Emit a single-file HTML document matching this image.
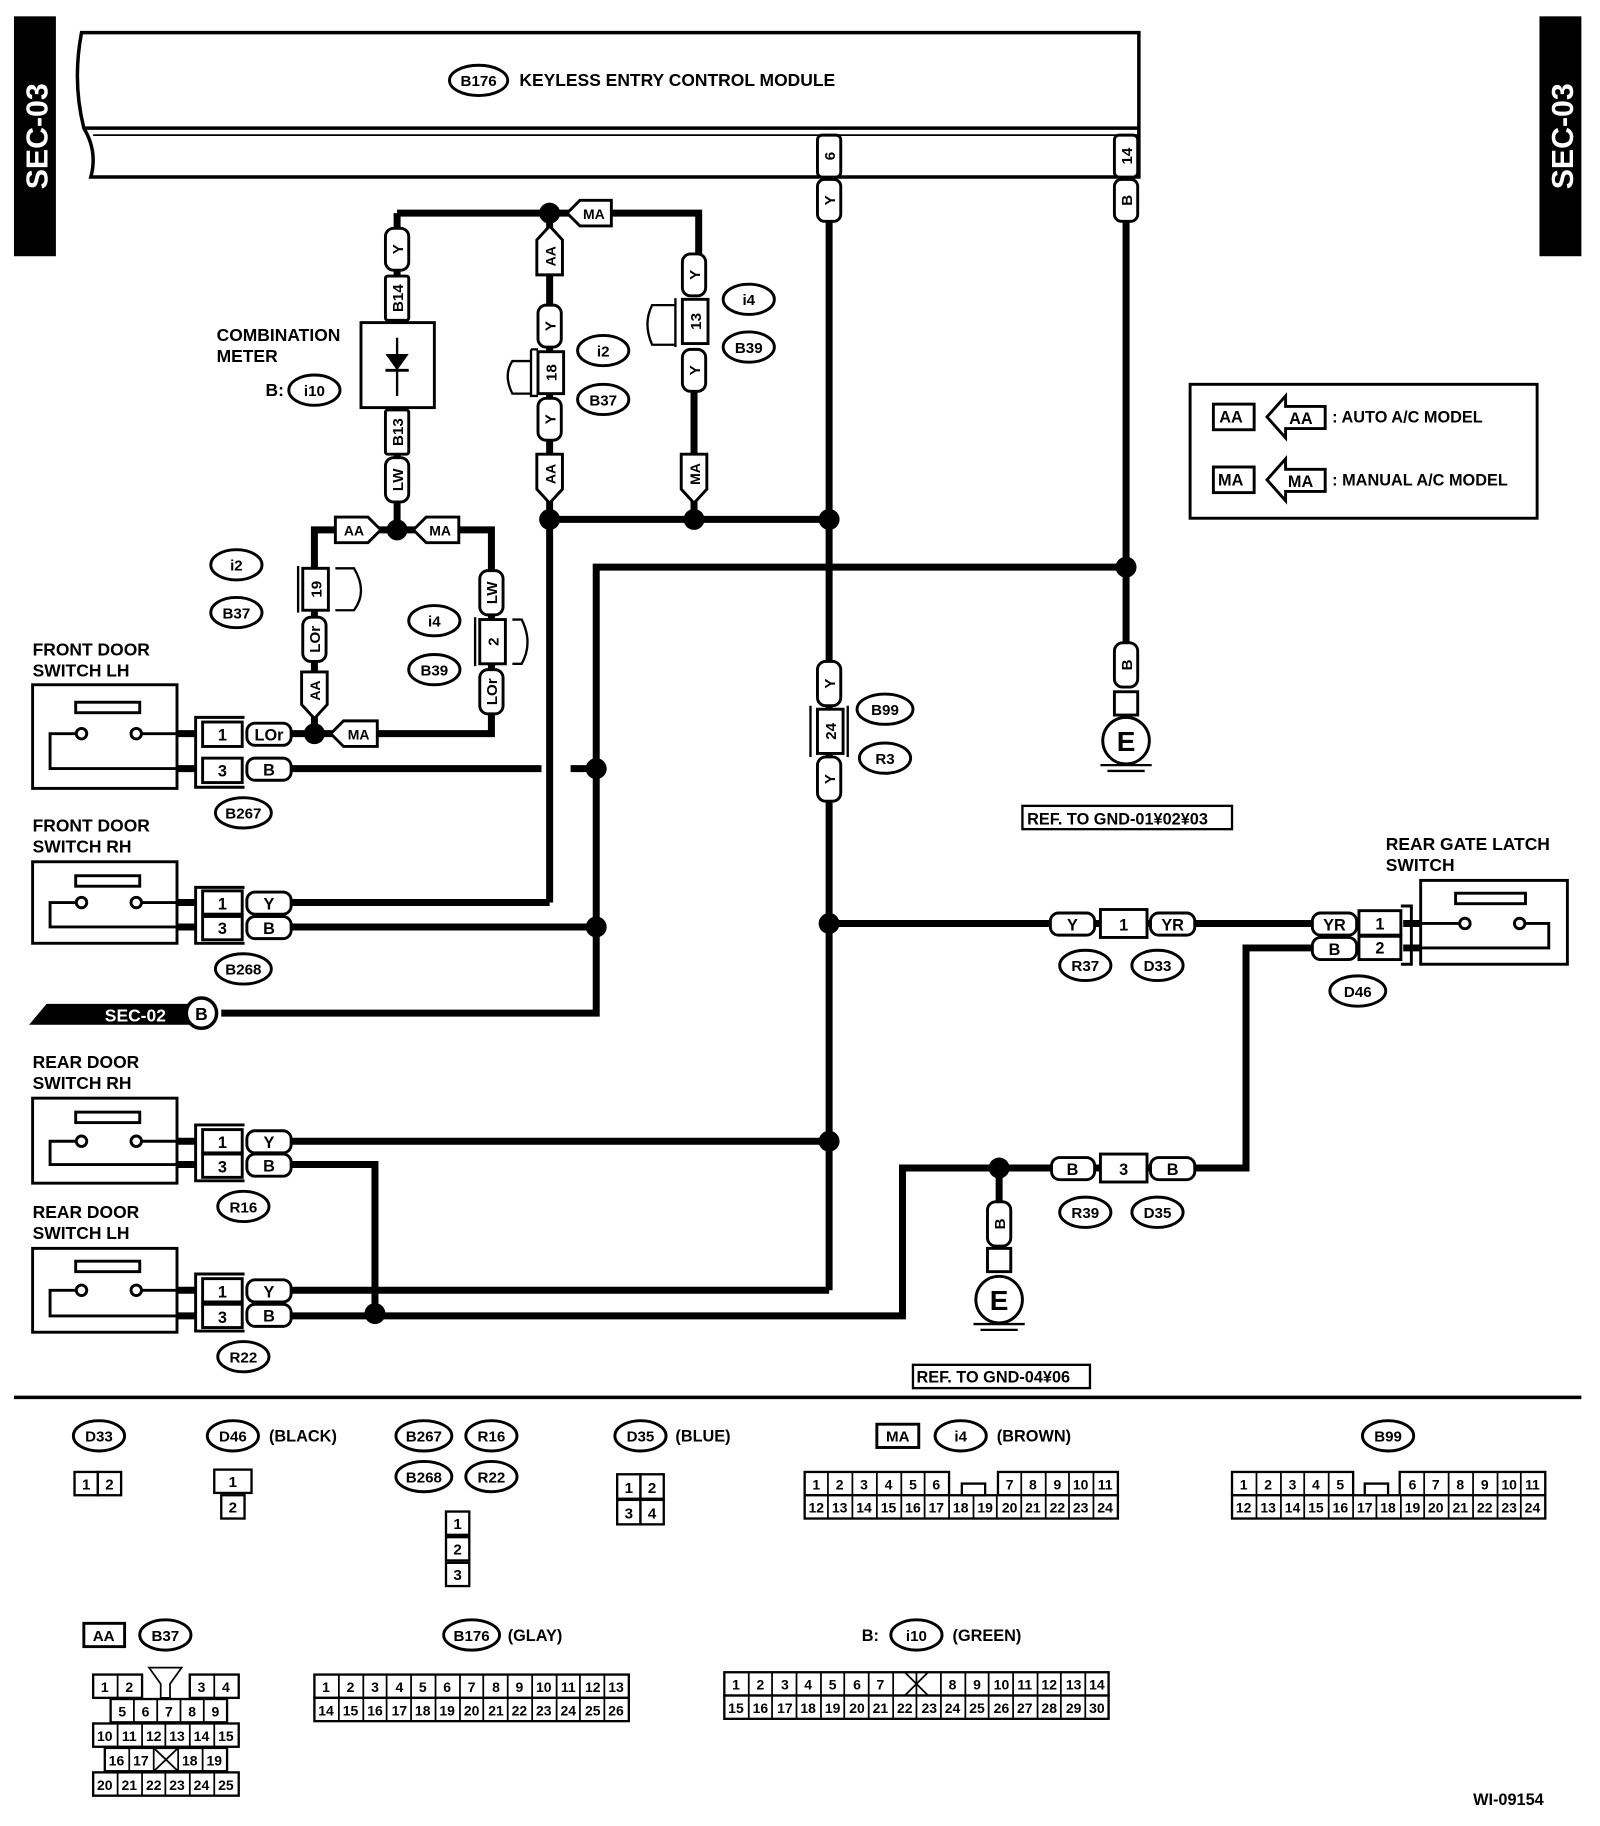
<!DOCTYPE html>
<html><head><meta charset="utf-8"><style>
html,body{margin:0;padding:0;background:#fff}
svg{display:block}
text{font-family:"Liberation Sans",Arial,sans-serif;font-weight:bold;fill:#000}
</style></head><body>
<svg width="1600" height="1826" viewBox="0 0 1374 1568" xmlns="http://www.w3.org/2000/svg">
<rect width="1374" height="1568" fill="#fff"/>
<!-- SEC-03 bars -->
<rect x="12" y="14" width="36" height="206" fill="#000"/>
<text transform="translate(41,117) rotate(-90)" text-anchor="middle" font-size="26" style="fill:#fff">SEC-03</text>
<rect x="1322" y="14" width="36" height="206" fill="#000"/>
<text transform="translate(1351,117) rotate(-90)" text-anchor="middle" font-size="26" style="fill:#fff">SEC-03</text>
<!-- module -->
<path d="M70,28 L978,28 L978,152 L78,152 Q84,130 72,110 Q62,70 70,28Z" fill="#fff" stroke="#000" stroke-width="3"/>
<line x1="72" y1="110" x2="978" y2="110" stroke="#000" stroke-width="3"/>
<line x1="80" y1="116" x2="978" y2="116" stroke="#000" stroke-width="1.5"/>
<ellipse cx="411" cy="69" rx="25" ry="13" fill="#fff" stroke="#000" stroke-width="2.5"/>
<text x="411" y="74" text-anchor="middle" font-size="13">B176</text>
<text x="446" y="74" font-size="15">KEYLESS ENTRY CONTROL MODULE</text>

<g stroke="#000" stroke-width="6" fill="none" stroke-linejoin="miter">
<!-- main wires -->
<line x1="712" y1="188" x2="712" y2="1108"/>
<line x1="967" y1="188" x2="967" y2="555"/>
<line x1="472" y1="446" x2="712" y2="446"/>
<path d="M967,487 L512,487 L512,870 L190,870"/>
<path d="M341,183 L600,183 L600,218"/>
<line x1="341" y1="183" x2="341" y2="455"/>
<line x1="472" y1="183" x2="472" y2="775"/>
<line x1="596" y1="330" x2="596" y2="446"/>
<path d="M270,630 L270,455 L422,455 L422,630 L250,630"/>
<line x1="250" y1="660" x2="465" y2="660"/>
<line x1="490" y1="660" x2="512" y2="660"/>
<line x1="250" y1="775" x2="472" y2="775"/>
<line x1="250" y1="796" x2="512" y2="796"/>
<line x1="712" y1="793" x2="1130" y2="793"/>
<path d="M1130,814 L1070,814 L1070,1003 L775,1003 L775,1130 L250,1130"/>
<line x1="858" y1="1003" x2="858" y2="1090"/>
<line x1="250" y1="980" x2="712" y2="980"/>
<path d="M250,1000 L322,1000 L322,1130"/>
<line x1="250" y1="1108" x2="712" y2="1108"/>
</g>
<!-- dots -->
<g fill="#000">
<circle cx="472" cy="183" r="9"/><circle cx="472" cy="446" r="9"/><circle cx="596" cy="446" r="9"/><circle cx="712" cy="446" r="9"/>
<circle cx="967" cy="487" r="9"/><circle cx="341" cy="455" r="9"/><circle cx="270" cy="630" r="9"/>
<circle cx="512" cy="660" r="9"/><circle cx="512" cy="796" r="9"/><circle cx="712" cy="793" r="9"/>
<circle cx="712" cy="980" r="9"/><circle cx="858" cy="1003" r="9"/><circle cx="322" cy="1128" r="9"/>
</g>

<!-- vertical tabs -->
<g stroke="#000" stroke-width="2.5" fill="#fff">
<rect x="702" y="116" width="20" height="36" rx="4"/><rect x="702" y="154" width="20" height="36" rx="6"/>
<rect x="957" y="116" width="20" height="36" rx="4"/><rect x="957" y="154" width="20" height="36" rx="6"/>
<rect x="331" y="196" width="20" height="36" rx="7"/><rect x="331" y="237" width="20" height="38" rx="2"/>
<rect x="310" y="277" width="63" height="73"/>
<rect x="331" y="352" width="20" height="38" rx="2"/><rect x="331" y="393" width="20" height="38" rx="7"/>
<rect x="462" y="262" width="20" height="36" rx="7"/><rect x="462" y="302" width="22" height="36"/><rect x="462" y="342" width="20" height="36" rx="7"/>
<rect x="586" y="218" width="20" height="36" rx="7"/><rect x="586" y="257" width="22" height="38"/><rect x="586" y="300" width="20" height="36" rx="7"/>
<rect x="260" y="488" width="22" height="36"/><rect x="260" y="530" width="20" height="38" rx="7"/>
<rect x="412" y="490" width="20" height="38" rx="7"/><rect x="412" y="532" width="22" height="38"/><rect x="412" y="575" width="20" height="38" rx="7"/>
<rect x="702" y="568" width="20" height="38" rx="7"/><rect x="702" y="609" width="22" height="38"/><rect x="702" y="650" width="20" height="38" rx="7"/>
<rect x="957" y="552" width="20" height="38" rx="7"/><rect x="957" y="594" width="20" height="20"/>
<rect x="848" y="1032" width="20" height="38" rx="7"/><rect x="848" y="1072" width="20" height="20"/>
</g>
<!-- connector brackets -->
<g stroke="#000" stroke-width="2" fill="none">
<path d="M456,310 L440,310 Q432,322 440,338 L456,338"/><path d="M456,300 L462,300 M456,300 L456,340 L462,340"/>
<path d="M580,262 L560,262 Q552,278 560,296 L580,296"/><path d="M580,256 L580,298"/>
<path d="M288,488 L304,488 Q316,508 304,524 L288,524"/><path d="M256,486 L256,526"/>
<path d="M440,532 L448,532 Q458,552 448,570 L440,570"/><path d="M408,530 L408,572"/>
<path d="M696,606 L696,650 M728,606 L728,650"/>
</g>
<!-- diode -->
<line x1="341" y1="290" x2="341" y2="340" stroke="#000" stroke-width="2"/>
<polygon points="331,304 351,304 341,318" fill="#000"/><line x1="331" y1="318" x2="351" y2="318" stroke="#000" stroke-width="2.5"/>
<!-- vertical tab text -->
<g font-size="13" text-anchor="middle">
<text transform="translate(717,134) rotate(-90)">6</text><text transform="translate(717,172) rotate(-90)">Y</text>
<text transform="translate(972,134) rotate(-90)">14</text><text transform="translate(972,172) rotate(-90)">B</text>
<text transform="translate(346,214) rotate(-90)">Y</text><text transform="translate(346,256) rotate(-90)">B14</text>
<text transform="translate(346,371) rotate(-90)">B13</text><text transform="translate(346,412) rotate(-90)">LW</text>
<text transform="translate(477,280) rotate(-90)">Y</text><text transform="translate(478,320) rotate(-90)">18</text><text transform="translate(477,360) rotate(-90)">Y</text>
<text transform="translate(601,236) rotate(-90)">Y</text><text transform="translate(602,276) rotate(-90)">13</text><text transform="translate(601,318) rotate(-90)">Y</text>
<text transform="translate(276,506) rotate(-90)">19</text><text transform="translate(275,549) rotate(-90)">LOr</text>
<text transform="translate(427,509) rotate(-90)">LW</text><text transform="translate(428,551) rotate(-90)">2</text><text transform="translate(427,594) rotate(-90)">LOr</text>
<text transform="translate(717,587) rotate(-90)">Y</text><text transform="translate(718,628) rotate(-90)">24</text><text transform="translate(717,669) rotate(-90)">Y</text>
<text transform="translate(972,571) rotate(-90)">B</text>
<text transform="translate(863,1051) rotate(-90)">B</text>
</g>
<!-- AA/MA arrows -->
<g stroke="#000" stroke-width="2.5" fill="#fff">
<polygon points="487,183 498,172 525,172 525,194 498,194"/>
<polygon points="472,194 461,206 461,236 483,236 483,206"/>
<polygon points="472,432 461,420 461,390 483,390 483,420"/>
<polygon points="596,432 585,420 585,390 607,390 607,420"/>
<polygon points="327,455 316,444 288,444 288,466 316,466"/>
<polygon points="355,455 366,444 394,444 394,466 366,466"/>
<polygon points="270,617 259,605 259,577 281,577 281,605"/>
<polygon points="284,630 295,619 324,619 324,641 295,641"/>
</g>
<g font-size="12" text-anchor="middle">
<text x="510" y="188">MA</text>
<text transform="translate(477,220) rotate(-90)">AA</text>
<text transform="translate(477,407) rotate(-90)">AA</text>
<text transform="translate(601,407) rotate(-90)">MA</text>
<text x="304" y="460">AA</text><text x="378" y="460">MA</text>
<text transform="translate(275,593) rotate(-90)">AA</text>
<text x="308" y="635">MA</text>
</g>
<!-- combination meter label -->
<text x="186" y="293" font-size="15">COMBINATION</text>
<text x="186" y="311" font-size="15">METER</text>
<text x="228" y="340" font-size="15">B:</text>

<!-- ovals -->
<g stroke="#000" stroke-width="2.5" fill="#fff">
<ellipse cx="270" cy="335" rx="22" ry="13"/>
<ellipse cx="518" cy="301" rx="22" ry="13"/><ellipse cx="518" cy="343" rx="22" ry="13"/>
<ellipse cx="643" cy="257" rx="22" ry="13"/><ellipse cx="643" cy="298" rx="22" ry="13"/>
<ellipse cx="203" cy="485" rx="22" ry="13"/><ellipse cx="203" cy="526" rx="22" ry="13"/>
<ellipse cx="373" cy="533" rx="22" ry="13"/><ellipse cx="373" cy="575" rx="22" ry="13"/>
<ellipse cx="760" cy="609" rx="24" ry="13"/><ellipse cx="760" cy="651" rx="22" ry="13"/>
<ellipse cx="209" cy="698" rx="24" ry="13"/><ellipse cx="209" cy="832" rx="24" ry="13"/>
<ellipse cx="209" cy="1036" rx="22" ry="13"/><ellipse cx="209" cy="1165" rx="22" ry="13"/>
<ellipse cx="932" cy="829" rx="22" ry="13"/><ellipse cx="994" cy="829" rx="22" ry="13"/>
<ellipse cx="1166" cy="851" rx="24" ry="13"/>
<ellipse cx="932" cy="1041" rx="22" ry="13"/><ellipse cx="994" cy="1041" rx="22" ry="13"/>
</g>
<g font-size="13" text-anchor="middle">
<text x="270" y="340">i10</text>
<text x="518" y="306">i2</text><text x="518" y="348">B37</text>
<text x="643" y="262">i4</text><text x="643" y="303">B39</text>
<text x="203" y="490">i2</text><text x="203" y="531">B37</text>
<text x="373" y="538">i4</text><text x="373" y="580">B39</text>
<text x="760" y="614">B99</text><text x="760" y="656">R3</text>
<text x="209" y="703">B267</text><text x="209" y="837">B268</text>
<text x="209" y="1041">R16</text><text x="209" y="1170">R22</text>
<text x="932" y="834">R37</text><text x="994" y="834">D33</text>
<text x="1166" y="856">D46</text>
<text x="932" y="1046">R39</text><text x="994" y="1046">D35</text>
</g>

<!-- switches -->
<g font-size="15">
<text x="28" y="563">FRONT DOOR</text><text x="28" y="581">SWITCH LH</text>
<text x="28" y="714">FRONT DOOR</text><text x="28" y="732">SWITCH RH</text>
<text x="28" y="917">REAR DOOR</text><text x="28" y="935">SWITCH RH</text>
<text x="28" y="1046">REAR DOOR</text><text x="28" y="1064">SWITCH LH</text>
<text x="1190" y="730">REAR GATE LATCH</text><text x="1190" y="748">SWITCH</text>
</g>
<g stroke="#000" stroke-width="2.5" fill="none">
<!-- FL -->
<rect x="28" y="588" width="124" height="89" fill="#fff"/><rect x="65" y="603" width="55" height="9"/>
<circle cx="70" cy="630" r="4.5" fill="#fff"/><circle cx="117" cy="630" r="4.5" fill="#fff"/>
<path d="M65,630 L43,630 L43,660 L152,660 M122,630 L152,630"/>
<!-- FR -->
<rect x="28" y="740" width="124" height="70" fill="#fff"/><rect x="65" y="752" width="55" height="9"/>
<circle cx="70" cy="775" r="4.5" fill="#fff"/><circle cx="117" cy="775" r="4.5" fill="#fff"/>
<path d="M65,775 L43,775 L43,796 L152,796 M122,775 L152,775"/>
<!-- RR -->
<rect x="28" y="943" width="124" height="73" fill="#fff"/><rect x="65" y="955" width="55" height="9"/>
<circle cx="70" cy="980" r="4.5" fill="#fff"/><circle cx="117" cy="980" r="4.5" fill="#fff"/>
<path d="M65,980 L43,980 L43,1000 L152,1000 M122,980 L152,980"/>
<!-- RL -->
<rect x="28" y="1072" width="124" height="72" fill="#fff"/><rect x="65" y="1083" width="55" height="9"/>
<circle cx="70" cy="1108" r="4.5" fill="#fff"/><circle cx="117" cy="1108" r="4.5" fill="#fff"/>
<path d="M65,1108 L43,1108 L43,1130 L152,1130 M122,1108 L152,1108"/>
<!-- rear gate -->
<rect x="1220" y="756" width="126" height="72" fill="#fff"/><rect x="1250" y="767" width="60" height="9"/>
<circle cx="1258" cy="793" r="4.5" fill="#fff"/><circle cx="1305" cy="793" r="4.5" fill="#fff"/>
<path d="M1220,793 L1253,793 M1310,793 L1330,793 L1330,814 L1220,814"/>
</g>
<g stroke="#000" stroke-width="6">
<line x1="152" y1="630" x2="168" y2="630"/><line x1="152" y1="660" x2="168" y2="660"/>
<line x1="152" y1="775" x2="168" y2="775"/><line x1="152" y1="796" x2="168" y2="796"/>
<line x1="152" y1="980" x2="168" y2="980"/><line x1="152" y1="1000" x2="168" y2="1000"/>
<line x1="152" y1="1108" x2="168" y2="1108"/><line x1="152" y1="1130" x2="168" y2="1130"/>
<line x1="1205" y1="793" x2="1220" y2="793"/><line x1="1205" y1="814" x2="1220" y2="814"/>
</g>
<!-- horizontal connectors -->
<g stroke="#000" stroke-width="2.5" fill="#fff">
<path d="M210,616 L168,616 L168,676 L210,676" fill="none"/><rect x="174" y="620" width="34" height="21"/><rect x="174" y="651" width="34" height="21"/>
<rect x="212" y="621" width="38" height="19" rx="7"/><rect x="212" y="651" width="38" height="19" rx="7"/>
<path d="M210,762 L168,762 L168,810 L210,810" fill="none"/><rect x="174" y="765" width="34" height="20"/><rect x="174" y="787" width="34" height="20"/>
<rect x="212" y="766" width="38" height="19" rx="7"/><rect x="212" y="787" width="38" height="19" rx="7"/>
<path d="M210,966 L168,966 L168,1014 L210,1014" fill="none"/><rect x="174" y="970" width="34" height="20"/><rect x="174" y="991" width="34" height="20"/>
<rect x="212" y="971" width="38" height="19" rx="7"/><rect x="212" y="991" width="38" height="19" rx="7"/>
<path d="M210,1094 L168,1094 L168,1143 L210,1143" fill="none"/><rect x="174" y="1098" width="34" height="20"/><rect x="174" y="1120" width="34" height="20"/>
<rect x="212" y="1099" width="38" height="19" rx="7"/><rect x="212" y="1120" width="38" height="19" rx="7"/>
<rect x="902" y="784" width="38" height="19" rx="7"/><rect x="945" y="781" width="40" height="24"/><rect x="988" y="784" width="38" height="19" rx="7"/>
<rect x="1127" y="784" width="38" height="19" rx="7"/><rect x="1127" y="805" width="38" height="19" rx="7"/>
<rect x="1167" y="782" width="36" height="21"/><rect x="1167" y="804" width="36" height="20"/>
<path d="M1203,778 L1212,778 L1212,828 L1203,828" fill="none"/>
<rect x="903" y="994" width="37" height="19" rx="7"/><rect x="945" y="991" width="40" height="24"/><rect x="988" y="994" width="38" height="19" rx="7"/>
</g>
<g font-size="14" text-anchor="middle">
<text x="191" y="636">1</text><text x="231" y="636">LOr</text><text x="191" y="667">3</text><text x="231" y="666">B</text>
<text x="191" y="781">1</text><text x="231" y="781">Y</text><text x="191" y="802">3</text><text x="231" y="802">B</text>
<text x="191" y="986">1</text><text x="231" y="986">Y</text><text x="191" y="1007">3</text><text x="231" y="1006">B</text>
<text x="191" y="1114">1</text><text x="231" y="1114">Y</text><text x="191" y="1136">3</text><text x="231" y="1135">B</text>
<text x="921" y="799">Y</text><text x="965" y="799">1</text><text x="1007" y="799">YR</text>
<text x="1146" y="799">YR</text><text x="1146" y="820">B</text><text x="1185" y="798">1</text><text x="1185" y="819">2</text>
<text x="921" y="1009">B</text><text x="965" y="1009">3</text><text x="1007" y="1009">B</text>
</g>

<!-- grounds -->
<g stroke="#000" stroke-width="2.5" fill="#fff">
<circle cx="967" cy="636" r="20"/><circle cx="858" cy="1116" r="20"/>
</g>
<g stroke="#000" stroke-width="2">
<line x1="945" y1="657" x2="989" y2="657"/><line x1="951" y1="662" x2="983" y2="662"/>
<line x1="836" y1="1137" x2="880" y2="1137"/><line x1="842" y1="1142" x2="874" y2="1142"/>
</g>
<text x="967" y="645" text-anchor="middle" font-size="24">E</text>
<text x="858" y="1125" text-anchor="middle" font-size="24">E</text>
<rect x="878" y="692" width="180" height="20" fill="#fff" stroke="#000" stroke-width="2"/>
<text x="882" y="708" font-size="14">REF. TO GND-01¥02¥03</text>
<rect x="784" y="1172" width="152" height="20" fill="#fff" stroke="#000" stroke-width="2"/>
<text x="787" y="1187" font-size="14">REF. TO GND-04¥06</text>

<!-- SEC-02 -->
<polygon points="25,880 40,862 165,862 165,880" fill="#000"/>
<text x="90" y="877" font-size="15" style="fill:#fff">SEC-02</text>
<circle cx="173" cy="870" r="13" fill="#fff" stroke="#000" stroke-width="3"/>
<text x="173" y="876" text-anchor="middle" font-size="15">B</text>

<!-- legend -->
<rect x="1022" y="330" width="298" height="115" fill="#fff" stroke="#000" stroke-width="2.5"/>
<g stroke="#000" stroke-width="2.5" fill="#fff">
<rect x="1042" y="347" width="35" height="22"/><polygon points="1088,358 1104,340 1104,349 1138,349 1138,368 1104,368 1104,376"/>
<rect x="1042" y="401" width="35" height="22"/><polygon points="1088,412 1104,394 1104,403 1138,403 1138,422 1104,422 1104,430"/>
</g>
<g font-size="14">
<text x="1047" y="363">AA</text><text x="1107" y="364">AA</text><text x="1144" y="363">: AUTO A/C MODEL</text>
<text x="1046" y="417">MA</text><text x="1106" y="418">MA</text><text x="1144" y="417">: MANUAL A/C MODEL</text>
</g>

<!-- separator -->
<line x1="12" y1="1200" x2="1358" y2="1200" stroke="#000" stroke-width="3"/>

<!-- bottom labels -->
<g stroke="#000" stroke-width="2.5" fill="#fff">
<ellipse cx="85" cy="1233" rx="22" ry="13"/><ellipse cx="200" cy="1233" rx="22" ry="13"/>
<ellipse cx="364" cy="1233" rx="24" ry="13"/><ellipse cx="422" cy="1233" rx="22" ry="13"/>
<ellipse cx="364" cy="1268" rx="24" ry="13"/><ellipse cx="422" cy="1268" rx="22" ry="13"/>
<ellipse cx="550" cy="1233" rx="22" ry="13"/><ellipse cx="825" cy="1233" rx="22" ry="13"/>
<ellipse cx="1192" cy="1233" rx="22" ry="13"/>
<ellipse cx="142" cy="1404" rx="22" ry="13"/><ellipse cx="405" cy="1404" rx="24" ry="13"/><ellipse cx="787" cy="1404" rx="22" ry="13"/>
<rect x="753" y="1223" width="36" height="20"/><rect x="72" y="1394" width="35" height="20"/>
</g>
<g font-size="13" text-anchor="middle">
<text x="85" y="1238">D33</text><text x="200" y="1238">D46</text>
<text x="364" y="1238">B267</text><text x="422" y="1238">R16</text>
<text x="364" y="1273">B268</text><text x="422" y="1273">R22</text>
<text x="550" y="1238">D35</text><text x="825" y="1238">i4</text><text x="1192" y="1238">B99</text>
<text x="142" y="1409">B37</text><text x="405" y="1409">B176</text><text x="787" y="1409">i10</text>
<text x="771" y="1238">MA</text><text x="89" y="1409">AA</text>
</g>
<g font-size="14">
<text x="231" y="1238">(BLACK)</text><text x="580" y="1238">(BLUE)</text><text x="856" y="1238">(BROWN)</text>
<text x="436" y="1409">(GLAY)</text><text x="740" y="1409">B:</text><text x="818" y="1409">(GREEN)</text>
<text x="1265" y="1550">WI-09154</text>
</g>

<!-- connector grids -->
<g stroke="#000" stroke-width="2" fill="#fff">
<rect x="64" y="1264" width="20" height="20"/><rect x="84" y="1264" width="20" height="20"/>
<rect x="184" y="1262" width="32" height="20"/><rect x="190" y="1284" width="20" height="20"/>
<rect x="383" y="1298" width="20" height="20"/><rect x="383" y="1320" width="20" height="20"/><rect x="383" y="1342" width="20" height="20"/>
<rect x="530" y="1266" width="20" height="21"/><rect x="550" y="1266" width="20" height="21"/><rect x="530" y="1288" width="20" height="21"/><rect x="550" y="1288" width="20" height="21"/>
<!-- i4 -->
<rect x="691" y="1264" width="124" height="20"/><rect x="857" y="1264" width="103" height="20"/><rect x="691" y="1284" width="269" height="20"/>
<rect x="826" y="1274" width="20" height="10"/>
<!-- B99 -->
<rect x="1058" y="1264" width="104" height="20"/><rect x="1202" y="1264" width="125" height="20"/><rect x="1058" y="1284" width="269" height="20"/>
<rect x="1172" y="1274" width="20" height="10"/>
<!-- B176 -->
<rect x="270" y="1438" width="270" height="20"/><rect x="270" y="1458" width="270" height="20"/>
<!-- i10 -->
<rect x="622" y="1436" width="330" height="20"/><rect x="622" y="1456" width="330" height="20"/>
<!-- B37 -->
<rect x="80" y="1438" width="42" height="20"/><rect x="163" y="1438" width="42" height="20"/>
<rect x="95" y="1459" width="100" height="20"/><rect x="80" y="1480" width="125" height="20"/>
<rect x="90" y="1501" width="105" height="20"/><rect x="80" y="1522" width="125" height="20"/>
</g>
<g stroke="#000" stroke-width="1.5">
<line x1="84" y1="1264" x2="84" y2="1284"/>
<path d="M711,1264V1304M732,1264V1304M753,1264V1304M774,1264V1304M794,1264V1304M877,1264V1304M898,1264V1304M918,1264V1304M939,1264V1304M815,1284V1304M836,1284V1304M856,1284V1304"/>
<path d="M1079,1264V1304M1100,1264V1304M1120,1264V1304M1141,1264V1304M1162,1284V1304M1182,1284V1304M1223,1264V1304M1244,1264V1304M1265,1264V1304M1286,1264V1304M1306,1264V1304M1203,1284V1304"/>
<path d="M291,1438V1478M312,1438V1478M332,1438V1478M353,1438V1478M374,1438V1478M395,1438V1478M415,1438V1478M436,1438V1478M457,1438V1478M478,1438V1478M498,1438V1478M519,1438V1478"/>
<path d="M643,1436V1476M663,1436V1476M684,1436V1476M705,1436V1476M725,1436V1476M746,1436V1476M767,1436V1476M787,1436V1476M808,1436V1476M829,1436V1476M849,1436V1476M870,1436V1476M891,1436V1476M911,1436V1476M932,1436V1476"/>
<path d="M777,1436L797,1456M797,1436L777,1456"/>
<path d="M101,1438V1458M184,1438V1458M115,1459V1479M135,1459V1479M155,1459V1479M175,1459V1479M101,1480V1500M122,1480V1500M142,1480V1500M163,1480V1500M184,1480V1500M111,1501V1521M132,1501V1521M153,1501V1521M174,1501V1521M101,1522V1542M122,1522V1542M142,1522V1542M163,1522V1542M184,1522V1542"/>
<path d="M132,1501L153,1521M153,1501L132,1521"/>
<path d="M128,1432L156,1432L146,1446L146,1458L138,1458L138,1446Z" fill="#fff"/>
</g>
<g font-size="13" text-anchor="middle">
<text x="74" y="1279">1</text><text x="94" y="1279">2</text>
<text x="200" y="1277">1</text><text x="200" y="1299">2</text>
<text x="393" y="1313">1</text><text x="393" y="1335">2</text><text x="393" y="1357">3</text>
<text x="540" y="1282">1</text><text x="560" y="1282">2</text><text x="540" y="1304">3</text><text x="560" y="1304">4</text>
</g>
<g font-size="12" text-anchor="middle">
<text x="701" y="1279">1</text><text x="721" y="1279">2</text><text x="742" y="1279">3</text><text x="763" y="1279">4</text><text x="784" y="1279">5</text><text x="804" y="1279">6</text>
<text x="867" y="1279">7</text><text x="887" y="1279">8</text><text x="908" y="1279">9</text><text x="928" y="1279">10</text><text x="949" y="1279">11</text>
<text x="701" y="1299">12</text><text x="721" y="1299">13</text><text x="742" y="1299">14</text><text x="763" y="1299">15</text><text x="784" y="1299">16</text><text x="804" y="1299">17</text><text x="825" y="1299">18</text><text x="846" y="1299">19</text><text x="867" y="1299">20</text><text x="887" y="1299">21</text><text x="908" y="1299">22</text><text x="928" y="1299">23</text><text x="949" y="1299">24</text>
<text x="1068" y="1279">1</text><text x="1089" y="1279">2</text><text x="1110" y="1279">3</text><text x="1130" y="1279">4</text><text x="1151" y="1279">5</text>
<text x="1213" y="1279">6</text><text x="1233" y="1279">7</text><text x="1254" y="1279">8</text><text x="1275" y="1279">9</text><text x="1296" y="1279">10</text><text x="1316" y="1279">11</text>
<text x="1068" y="1299">12</text><text x="1089" y="1299">13</text><text x="1110" y="1299">14</text><text x="1130" y="1299">15</text><text x="1151" y="1299">16</text><text x="1172" y="1299">17</text><text x="1192" y="1299">18</text><text x="1213" y="1299">19</text><text x="1233" y="1299">20</text><text x="1254" y="1299">21</text><text x="1275" y="1299">22</text><text x="1296" y="1299">23</text><text x="1316" y="1299">24</text>
<text x="280" y="1453">1</text><text x="301" y="1453">2</text><text x="322" y="1453">3</text><text x="343" y="1453">4</text><text x="363" y="1453">5</text><text x="384" y="1453">6</text><text x="405" y="1453">7</text><text x="426" y="1453">8</text><text x="446" y="1453">9</text><text x="467" y="1453">10</text><text x="488" y="1453">11</text><text x="509" y="1453">12</text><text x="529" y="1453">13</text>
<text x="280" y="1473">14</text><text x="301" y="1473">15</text><text x="322" y="1473">16</text><text x="343" y="1473">17</text><text x="363" y="1473">18</text><text x="384" y="1473">19</text><text x="405" y="1473">20</text><text x="426" y="1473">21</text><text x="446" y="1473">22</text><text x="467" y="1473">23</text><text x="488" y="1473">24</text><text x="509" y="1473">25</text><text x="529" y="1473">26</text>
<text x="632" y="1451">1</text><text x="653" y="1451">2</text><text x="674" y="1451">3</text><text x="694" y="1451">4</text><text x="715" y="1451">5</text><text x="736" y="1451">6</text><text x="756" y="1451">7</text>
<text x="818" y="1451">8</text><text x="839" y="1451">9</text><text x="860" y="1451">10</text><text x="880" y="1451">11</text><text x="901" y="1451">12</text><text x="922" y="1451">13</text><text x="942" y="1451">14</text>
<text x="632" y="1471">15</text><text x="653" y="1471">16</text><text x="674" y="1471">17</text><text x="694" y="1471">18</text><text x="715" y="1471">19</text><text x="736" y="1471">20</text><text x="756" y="1471">21</text><text x="777" y="1471">22</text><text x="798" y="1471">23</text><text x="818" y="1471">24</text><text x="839" y="1471">25</text><text x="860" y="1471">26</text><text x="880" y="1471">27</text><text x="901" y="1471">28</text><text x="922" y="1471">29</text><text x="942" y="1471">30</text>
<text x="90" y="1453">1</text><text x="111" y="1453">2</text><text x="173" y="1453">3</text><text x="194" y="1453">4</text>
<text x="105" y="1474">5</text><text x="125" y="1474">6</text><text x="145" y="1474">7</text><text x="165" y="1474">8</text><text x="185" y="1474">9</text>
<text x="90" y="1495">10</text><text x="111" y="1495">11</text><text x="132" y="1495">12</text><text x="152" y="1495">13</text><text x="173" y="1495">14</text><text x="194" y="1495">15</text>
<text x="100" y="1516">16</text><text x="121" y="1516">17</text><text x="163" y="1516">18</text><text x="184" y="1516">19</text>
<text x="90" y="1537">20</text><text x="111" y="1537">21</text><text x="132" y="1537">22</text><text x="152" y="1537">23</text><text x="173" y="1537">24</text><text x="194" y="1537">25</text>
</g>
</svg>
</body></html>
